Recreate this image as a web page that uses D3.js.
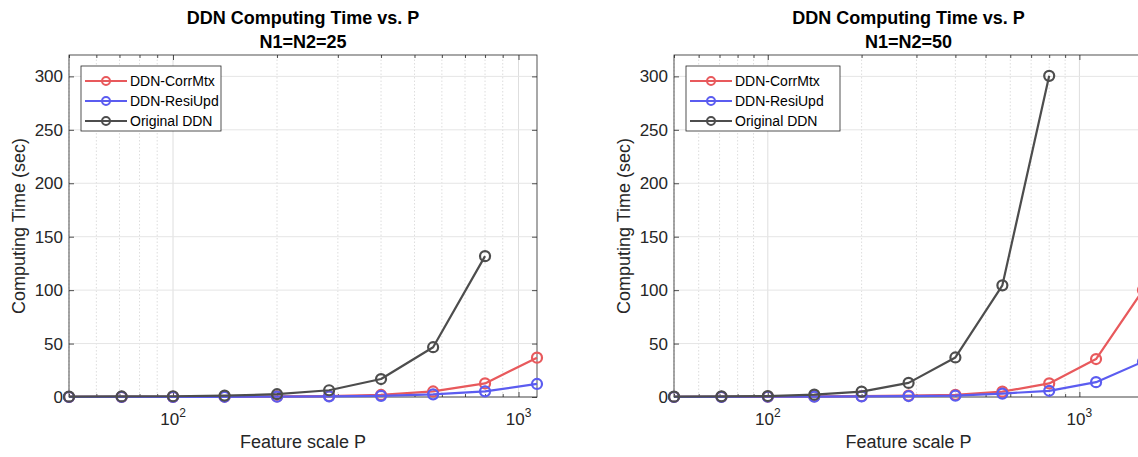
<!DOCTYPE html>
<html>
<head>
<meta charset="utf-8">
<script src="https://cdn.jsdelivr.net/npm/d3@7"></script>
<style>
  body { margin: 0; background: #fff; }
  svg { display: block; font-family: "Liberation Sans", Arial, sans-serif; }
</style>
</head>
<body>
<div id="chart"></div>
<script>
// feature scale P (x values, log axis)
const P = [50, 71, 100, 141, 200, 283, 400, 566, 800, 1131, 1600];

// N1=N2=25
const corr25 = [0.05, 0.1, 0.15, 0.3, 0.5, 0.9, 1.9, 5.2, 12.7, 36.8];
const resi25 = [0.04, 0.08, 0.12, 0.2, 0.35, 0.6, 1.1, 2.5, 5.3, 12.2];
const orig25 = [0.3, 0.5, 0.7, 1.3, 2.6, 6.3, 16.8, 46.6, 131.8];

// N1=N2=50
const corr50 = [0.1, 0.2, 0.3, 0.5, 0.8, 1.3, 2.0, 5.0, 12.7, 35.5, 100];
const resi50 = [0.08, 0.15, 0.25, 0.4, 0.6, 0.9, 1.2, 3.2, 5.8, 13.9, 33];
const orig50 = [0.3, 0.6, 0.9, 2.2, 5.0, 13.2, 37.0, 104.5, 300.5];

const seriesNames = ["DDN-CorrMtx", "DDN-ResiUpd", "Original DDN"];
const seriesColors = ["#e8595c", "#5b5cf0", "#4d4d4d"];
const yTicks = [0, 50, 100, 150, 200, 250, 300];

const W = 1138, H = 457;
const axisCol = "#262626";

const svg = d3.select("#chart").append("svg")
    .attr("width", W)
    .attr("height", H);

function drawPanel(opt) {
    const x = d3.scaleLog().domain(opt.xDomain).range([opt.x0, opt.x1]);
    const y = d3.scaleLinear().domain([0, 320]).range([397, 55]);
    const g = svg.append("g");

    const allTicks = x.ticks().filter(v => v >= opt.xDomain[0] && v <= opt.xDomain[1]);
    const majors = allTicks.filter(v => Math.abs(Math.log10(v) % 1) < 1e-9);
    const minors = allTicks.filter(v => !majors.includes(v));

    // grid
    g.append("g").selectAll("line").data(minors).join("line")
        .attr("x1", d => x(d)).attr("x2", d => x(d))
        .attr("y1", y(0)).attr("y2", y(320))
        .attr("stroke", "#d4d4d4").attr("stroke-width", 0.8)
        .attr("stroke-dasharray", "1.5,2");
    g.append("g").selectAll("line").data(majors).join("line")
        .attr("x1", d => x(d)).attr("x2", d => x(d))
        .attr("y1", y(0)).attr("y2", y(320))
        .attr("stroke", "#dedede").attr("stroke-width", 1);
    g.append("g").selectAll("line").data(yTicks).join("line")
        .attr("x1", opt.x0).attr("x2", opt.x1)
        .attr("y1", d => y(d)).attr("y2", d => y(d))
        .attr("stroke", "#e5e5e5").attr("stroke-width", 1);

    // axes (ticks inward)
    const yl = g.append("g").attr("transform", `translate(${opt.x0},0)`)
        .call(d3.axisLeft(y).tickValues(yTicks).tickSize(-5).tickPadding(6));
    const yr = g.append("g").attr("transform", `translate(${opt.x1},0)`)
        .call(d3.axisRight(y).tickValues(yTicks).tickSize(-5).tickFormat(""));
    const xb = g.append("g").attr("transform", `translate(0,${y(0)})`)
        .call(d3.axisBottom(x).tickValues(majors).tickSize(-5).tickFormat(""));
    const xbm = g.append("g").attr("transform", `translate(0,${y(0)})`)
        .call(d3.axisBottom(x).tickValues(minors).tickSize(-3).tickFormat(""));
    const xt = g.append("g").attr("transform", `translate(0,${y(320)})`)
        .call(d3.axisTop(x).tickValues(majors).tickSize(-5).tickFormat(""));
    const xtm = g.append("g").attr("transform", `translate(0,${y(320)})`)
        .call(d3.axisTop(x).tickValues(minors).tickSize(-3).tickFormat(""));
    [yl, yr, xb, xbm, xt, xtm].forEach(a => {
        a.select(".domain").remove();
        a.selectAll("line").attr("stroke", axisCol).attr("stroke-width", 0.8);
    });
    yl.selectAll("text").attr("fill", axisCol).style("font-size", "17px")
        .style("font-family", "Liberation Sans, Arial, sans-serif");

    // box
    g.append("rect")
        .attr("x", opt.x0).attr("y", y(320))
        .attr("width", opt.x1 - opt.x0).attr("height", y(0) - y(320))
        .attr("fill", "none").attr("stroke", axisCol).attr("stroke-width", 0.8);

    // x tick labels 10^n
    const lab = g.append("g").selectAll("text").data(majors).join("text")
        .attr("x", d => x(d)).attr("y", 425)
        .attr("text-anchor", "middle")
        .attr("fill", axisCol).style("font-size", "17px");
    lab.append("tspan").text("10");
    lab.append("tspan").attr("dy", -8).style("font-size", "12px")
        .text(d => Math.round(Math.log10(d)));

    // series
    const line = d3.line().x(d => x(d[0])).y(d => y(d[1]));
    opt.series.forEach((vals, i) => {
        const pts = vals.map((v, j) => [P[j], v]);
        const sg = g.append("g");
        sg.append("path").attr("d", line(pts))
            .attr("fill", "none").attr("stroke", seriesColors[i])
            .attr("stroke-width", 2.2).attr("stroke-linejoin", "round");
        sg.selectAll("circle").data(pts).join("circle")
            .attr("cx", d => x(d[0])).attr("cy", d => y(d[1]))
            .attr("r", 5).attr("fill", "none")
            .attr("stroke", seriesColors[i]).attr("stroke-width", 2.2);
    });

    // titles
    const cx = (opt.x0 + opt.x1) / 2;
    g.append("text").attr("x", cx).attr("y", 24).attr("text-anchor", "middle")
        .style("font-size", "18px").style("font-weight", "bold").attr("fill", "#000")
        .text("DDN Computing Time vs. P");
    g.append("text").attr("x", cx).attr("y", 48).attr("text-anchor", "middle")
        .style("font-size", "18px").style("font-weight", "bold").attr("fill", "#000")
        .text(opt.sub);

    g.append("text").attr("x", cx).attr("y", 448).attr("text-anchor", "middle")
        .style("font-size", "18px").attr("fill", axisCol)
        .text("Feature scale P");
    g.append("text")
        .attr("transform", `translate(${opt.x0 - 44},${(y(0) + y(320)) / 2}) rotate(-90)`)
        .attr("text-anchor", "middle")
        .style("font-size", "18px").attr("fill", axisCol)
        .text("Computing Time (sec)");

    // legend
    const lx = opt.x0 + 12, ly = 66;
    const lg = g.append("g");
    lg.append("rect").attr("x", lx).attr("y", ly)
        .attr("width", opt.legendW).attr("height", 65)
        .attr("fill", "#fff").attr("stroke", axisCol).attr("stroke-width", 0.8);
    seriesNames.forEach((name, i) => {
        const yy = ly + 15 + i * 20;
        lg.append("line").attr("x1", lx + 4).attr("x2", lx + 46)
            .attr("y1", yy).attr("y2", yy)
            .attr("stroke", seriesColors[i]).attr("stroke-width", 2.2);
        lg.append("circle").attr("cx", lx + 25).attr("cy", yy).attr("r", 4)
            .attr("fill", "none").attr("stroke", seriesColors[i]).attr("stroke-width", 2);
        lg.append("text").attr("x", lx + 49).attr("y", yy + 5)
            .style("font-size", "14px").attr("fill", "#000").text(name);
    });
}

drawPanel({ x0: 69, x1: 537, xDomain: [50, 1131], sub: "N1=N2=25",
    series: [corr25, resi25, orig25], legendW: 140 });
drawPanel({ x0: 674, x1: 1143, xDomain: [50, 1600], sub: "N1=N2=50",
    series: [corr50, resi50, orig50], legendW: 154 });
</script>
</body>
</html>
